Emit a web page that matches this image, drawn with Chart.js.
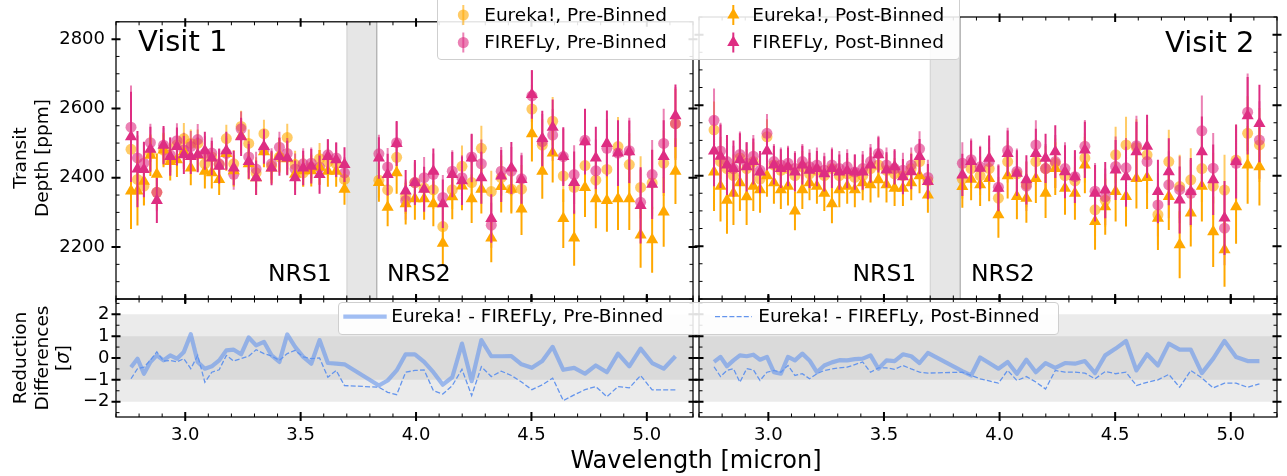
<!DOCTYPE html>
<html><head><meta charset="utf-8">
<script src="https://cdn.jsdelivr.net/npm/chart.js@4.4.0/dist/chart.umd.min.js"></script>
<style>
html,body{margin:0;padding:0;background:#fff;}
#wrap{position:relative;width:1287px;height:476px;overflow:hidden;font-family:"DejaVu Sans",sans-serif;color:#000;}
canvas{position:absolute;left:0;top:0;}
.t{position:absolute;white-space:nowrap;}
.lg{position:absolute;box-sizing:border-box;background:rgba(255,255,255,0.88);border:1px solid #cfcfcf;border-radius:4px;}
.rot{position:absolute;transform:translate(-50%,-50%) rotate(-90deg);text-align:center;white-space:nowrap;font-size:18.5px;line-height:21.5px;}
</style></head><body><div id="wrap">
<canvas id="c1" width="1287" height="476"></canvas>
<canvas id="c2" width="1287" height="476"></canvas>
<canvas id="c3" width="1287" height="476"></canvas>
<canvas id="c4" width="1287" height="476"></canvas>

<div class="t" style="left:138px;top:24px;font-size:29px;line-height:34px;">Visit 1</div>
<div class="t" style="left:1165px;top:25px;font-size:29px;line-height:34px;">Visit 2</div>
<div class="t" style="left:268px;top:259px;font-size:23.5px;line-height:28px;">NRS1</div>
<div class="t" style="left:387px;top:259px;font-size:23.5px;line-height:28px;">NRS2</div>
<div class="t" style="left:852.5px;top:259px;font-size:23.5px;line-height:28px;">NRS1</div>
<div class="t" style="left:971px;top:259px;font-size:23.5px;line-height:28px;">NRS2</div>

<div class="rot" style="left:29.5px;top:158px;">Transit<br>Depth [ppm]</div>
<div class="rot" style="left:40.5px;top:358px;">Reduction<br>Differences<br>[<i>σ</i>]</div>
<div class="t" style="left:696px;top:446px;font-size:24px;line-height:28px;transform:translateX(-50%);">Wavelength [micron]</div>

<div class="lg" style="left:437px;top:-8px;width:523px;height:68px;"></div>
<div class="lg" style="left:338px;top:301.5px;width:721px;height:33px;"></div>
<svg style="position:absolute;left:0;top:0;" width="1287" height="476">
  <line x1="463.3" y1="5" x2="463.3" y2="25" stroke="rgba(255,168,0,0.6)" stroke-width="2"/>
  <circle cx="463.3" cy="15" r="5.5" fill="rgba(255,168,0,0.6)"/>
  <line x1="463.3" y1="32.5" x2="463.3" y2="52.5" stroke="rgba(222,45,130,0.6)" stroke-width="2"/>
  <circle cx="463.3" cy="42.5" r="5.5" fill="rgba(222,45,130,0.6)"/>
  <line x1="733.3" y1="5" x2="733.3" y2="25" stroke="rgb(255,168,0)" stroke-width="2"/>
  <polygon points="733.3,8 739.4,18.5 727.2,18.5" fill="rgb(255,168,0)"/>
  <line x1="733.3" y1="32.5" x2="733.3" y2="52.5" stroke="rgb(222,45,130)" stroke-width="2"/>
  <polygon points="733.3,35.5 739.4,46 727.2,46" fill="rgb(222,45,130)"/>
  <line x1="343.3" y1="316.7" x2="386.7" y2="316.7" stroke="rgba(100,149,237,0.6)" stroke-width="4.2"/>
  <line x1="715" y1="316.7" x2="751.7" y2="316.7" stroke="rgb(100,149,237)" stroke-width="1.3" stroke-dasharray="5,2.2"/>
</svg>
<div class="t" style="left:484.2px;top:3.5px;font-size:18.5px;line-height:22px;">Eureka!, Pre-Binned</div>
<div class="t" style="left:484.2px;top:31.2px;font-size:18.5px;line-height:22px;">FIREFLy, Pre-Binned</div>
<div class="t" style="left:752.2px;top:3.5px;font-size:18.5px;line-height:22px;">Eureka!, Post-Binned</div>
<div class="t" style="left:752.2px;top:31.2px;font-size:18.5px;line-height:22px;">FIREFLy, Post-Binned</div>
<div class="t" style="left:391.2px;top:305.3px;font-size:18.5px;line-height:22px;">Eureka! - FIREFLy, Pre-Binned</div>
<div class="t" style="left:758.2px;top:305.3px;font-size:18.5px;line-height:22px;">Eureka! - FIREFLy, Post-Binned</div>
</div>
<script>
// ---------------- DATA ----------------
const wave = [2.765,2.793,2.821,2.849,2.877,2.906,2.935,2.964,2.994,3.024,3.054,3.085,3.115,3.147,3.178,3.210,3.242,3.275,3.307,3.341,3.374,3.408,3.442,3.476,3.511,3.546,3.582,3.618,3.654,3.690,
              3.839,3.877,3.916,3.955,3.995,4.035,4.075,4.116,4.157,4.199,4.241,4.283,4.326,4.369,4.413,4.457,4.502,4.547,4.592,4.638,4.685,4.732,4.779,4.827,4.875,4.924,4.973,5.023,5.073,5.124];

// Visit 1
const v1EurekaPre = [2482,2395,2376,2471,2358,2480,2452,2495,2513,2499,2499,2440,2460,2438,2513,2440,2548,2499,2414,2527,2433,2460,2516,2438,2414,2430,2455,2445,2440,2395,
                     2393,2365,2459,2345,2386,2370,2365,2259,2365,2433,2386,2485,2360,2400,2367,2367,2598,2494,2563,2405,2372,2435,2393,2424,2490,2438,2372,2385,2442,2556];
const v1EurekaPreErr = [90,60,55,50,50,45,45,45,45,40,40,45,40,40,40,40,45,40,45,40,40,40,40,40,40,40,45,40,40,40,
                        50,50,55,50,55,55,55,60,55,60,60,65,60,65,65,70,70,75,70,75,80,80,85,80,85,90,90,95,95,100];
const v1FireflyPre = [2546,2457,2442,2501,2358,2494,2466,2507,2480,2490,2510,2470,2471,2440,2470,2410,2541,2460,2425,2480,2440,2488,2470,2425,2440,2442,2430,2466,2457,2414,
                      2469,2431,2501,2334,2386,2400,2410,2343,2419,2400,2460,2440,2263,2419,2419,2397,2636,2504,2523,2461,2409,2508,2420,2485,2471,2478,2329,2409,2499,2556];
const v1FireflyPreErr = [120,65,60,55,55,50,50,50,50,45,45,50,45,45,45,45,50,45,50,45,45,45,45,45,45,45,50,45,45,45,
                         55,55,60,55,60,60,60,65,60,65,65,70,65,70,70,75,75,80,75,80,85,85,90,85,90,95,95,100,100,105];
const v1EurekaPost = [2362,2362,2390,2465,2410,2480,2447,2452,2475,2428,2465,2419,2414,2395,2470,2420,2520,2440,2400,2475,2428,2465,2455,2410,2420,2420,2430,2419,2419,2367,
                      2386,2315,2414,2325,2339,2339,2325,2211,2345,2376,2339,2367,2226,2375,2367,2310,2527,2419,2471,2282,2226,2372,2339,2334,2339,2339,2235,2221,2301,2419];
const v1EurekaPostErr = [110,100,70,60,60,50,55,50,50,50,45,50,45,45,50,45,50,45,50,45,45,50,45,45,45,45,50,45,45,45,
                         55,55,60,60,60,60,65,65,65,70,70,70,70,75,70,75,80,80,85,85,80,85,85,90,90,90,95,95,100,95];
const v1FireflyPost = [2518,2425,2424,2482,2334,2494,2461,2490,2466,2461,2466,2478,2457,2433,2478,2428,2518,2447,2400,2490,2428,2461,2457,2400,2428,2433,2409,2461,2452,2438,
                       2457,2409,2499,2362,2386,2367,2419,2325,2409,2391,2457,2400,2282,2405,2428,2395,2640,2513,2546,2461,2386,2504,2457,2499,2471,2475,2320,2381,2461,2579];
const v1FireflyPostErr = [130,110,80,65,65,55,55,55,55,50,50,55,50,50,55,50,55,50,50,50,50,55,50,50,50,50,55,50,50,50,
                          60,60,65,60,65,65,65,70,65,70,70,75,70,75,75,70,70,80,80,85,90,95,90,95,95,90,110,100,105,90];

// Visit 2
const v2EurekaPre = [2530,2440,2420,2400,2450,2420,2440,2390,2510,2430,2415,2420,2400,2425,2405,2415,2400,2420,2400,2405,2395,2400,2420,2430,2415,2405,2400,2420,2440,2385,
                     2390,2420,2400,2420,2336,2440,2405,2375,2440,2420,2435,2400,2385,2450,2303,2330,2459,2487,2480,2459,2289,2440,2369,2388,2420,2370,2359,2444,2520,2487];
const v2EurekaPreErr = [80,70,65,60,60,55,55,50,50,45,45,45,45,45,45,45,45,45,45,45,45,45,45,45,45,45,45,45,45,45,
                        55,55,55,60,60,60,60,65,65,65,70,70,70,70,75,75,80,80,80,85,85,90,90,90,95,95,100,100,105,105];
const v2FireflyPre = [2557,2470,2440,2420,2460,2435,2455,2415,2520,2440,2430,2435,2420,2440,2425,2430,2415,2430,2420,2425,2410,2420,2440,2463,2430,2420,2415,2430,2476,2395,
                      2435,2445,2425,2440,2367,2471,2412,2370,2487,2420,2440,2420,2397,2483,2356,2340,2426,2422,2485,2440,2317,2374,2360,2350,2527,2421,2251,2435,2580,2501];
const v2FireflyPreErr = [90,80,70,65,65,60,60,55,55,50,50,50,50,50,50,50,50,50,50,50,50,50,50,50,50,50,50,50,50,50,
                         60,60,60,65,65,65,65,70,70,70,75,75,75,75,80,80,85,85,85,90,90,95,95,95,100,100,105,105,110,110];
const v2EurekaPost = [2410,2370,2330,2350,2380,2340,2370,2360,2400,2380,2360,2370,2300,2360,2380,2370,2350,2320,2360,2370,2360,2380,2374,2388,2374,2364,2364,2380,2400,2345,
                      2369,2390,2374,2392,2289,2400,2341,2336,2392,2350,2420,2364,2350,2430,2270,2312,2355,2341,2392,2395,2279,2341,2204,2294,2370,2241,2190,2312,2430,2425];
const v2EurekaPostErr = [110,100,95,90,80,80,70,65,60,60,55,55,55,55,50,50,50,55,50,50,50,50,50,50,50,50,50,50,50,50,
                         60,60,60,65,65,65,65,70,70,70,75,75,75,80,80,80,85,85,85,90,90,95,95,95,100,100,105,105,110,110];
const v2FireflyPost = [2470,2455,2430,2420,2445,2425,2440,2410,2470,2430,2420,2425,2410,2430,2415,2420,2405,2420,2410,2414,2410,2410,2430,2459,2416,2425,2397,2411,2454,2383,
                       2402,2440,2421,2449,2364,2463,2407,2388,2463,2449,2468,2411,2397,2473,2350,2359,2416,2397,2468,2483,2355,2411,2331,2355,2468,2388,2280,2440,2570,2548];
const v2FireflyPostErr = [100,90,85,80,75,70,65,60,55,55,55,55,55,55,50,50,50,55,50,50,50,50,50,50,50,50,50,50,50,50,
                          60,60,60,65,65,65,65,70,70,70,75,75,75,80,80,80,85,85,85,90,90,95,95,95,100,100,105,105,110,110];

// Reduction differences [sigma]
const v1DiffPre = [-0.42,-0.03,-0.72,-0.18,0.12,-0.11,0.12,-0.03,0.28,1.09,-0.18,-0.49,-0.38,-0.11,0.35,0.38,0.17,0.94,0.58,0.74,0.12,-0.18,1.08,0.51,0.05,-0.26,0.82,-0.23,-0.26,-0.29,
                   -1.26,-1.03,-0.57,0.17,0.17,-0.18,-0.65,-1.22,-0.88,0.66,-1.06,0.82,0.08,0.08,0.09,-0.29,-0.45,-0.14,0.51,-0.54,-0.45,-0.72,-0.34,-0.65,0.2,-0.38,0.43,-0.23,-0.49,0.08];
const v1DiffPost = [-0.95,-0.49,-0.42,-0.1,0.28,-0.14,-0.11,-0.18,-0.03,-0.49,0.12,-1.11,-0.65,-0.54,0.12,-0.14,-0.03,0.08,0.38,0.2,0.09,-0.11,0.2,0.35,0.05,-0.03,0.0,-0.88,-0.57,-1.26,
                    -1.34,-1.57,-1.68,-0.65,-0.57,-0.55,-1.49,-1.65,-1.26,-0.52,-1.72,-0.4,-0.85,-0.6,-0.8,-1.1,-1.45,-1.23,-0.92,-1.95,-1.69,-1.45,-1.31,-1.77,-1.31,-1.37,-0.8,-1.46,-1.46,-1.46];
const v2DiffPre = [-0.18,0.05,-0.38,-0.11,0.12,0.08,0.15,-0.08,0.05,-0.65,-0.72,0.05,-0.11,0.2,-0.11,-0.65,-0.34,-0.2,-0.1,-0.11,-0.05,-0.03,0.12,-0.49,-0.11,-0.14,0.17,0.08,-0.23,0.23,
                   -0.6,-0.8,0.02,-0.23,-0.49,-0.18,-0.72,-0.08,-0.65,-0.23,-0.45,-0.23,-0.26,-0.14,-0.69,0.12,0.43,0.78,-0.57,0.17,-0.34,0.66,0.38,0.38,-0.69,-0.03,0.78,0.05,-0.14,-0.14];
const v2DiffPost = [-0.4,-0.85,-0.57,-0.49,-1.11,-0.49,-0.54,-1.03,-0.65,-0.57,-0.65,-0.34,-0.8,-0.72,-0.95,-0.72,-0.57,-0.5,-0.45,-0.42,-0.3,-0.18,-0.65,-0.45,-0.45,-0.52,-0.34,-0.5,-0.65,-0.69,
                    -0.65,-0.8,-0.95,-1.05,-1.15,-0.57,-1.03,-0.85,-1.1,-1.42,-0.57,-0.65,-0.65,-0.69,-0.95,-0.62,-0.72,-0.65,-1.26,-1.11,-1.0,-0.75,-1.34,-0.57,-0.91,-1.37,-1.15,-1.15,-1.34,-1.18];

// Axis ticks / ranges
const xTicks = [3.0,3.5,4.0,4.5,5.0];
const depthTicks = [2200,2400,2600,2800];
const sigmaTicks = [-2,-1,0,1,2];
const xRange = [2.70,5.20];
const depthRange = [2050,2850];
const sigmaRange = [-2.7,2.7];
const detectorGap = [3.70,3.83];
const sigmaBands = [2,1];

// ---------------- STYLE ----------------
const FONT = 'DejaVu Sans';
const orange = 'rgb(255,168,0)', orangeA = 'rgba(255,168,0,0.6)';
const pink = 'rgb(222,45,130)', pinkA = 'rgba(222,45,130,0.6)';
const blueA = 'rgba(100,149,237,0.6)', blue = 'rgb(100,149,237)';

function pts(v){ return wave.map((x,i)=>({x:x,y:v[i]})); }
function errs(v,e){ const out=[]; wave.forEach((x,i)=>{ out.push({x:x,y:v[i]-e[i]},{x:x,y:v[i]+e[i]},{x:x,y:null}); }); return out; }
function minorList(lo,hi,step,majors){ const out=[]; const n=Math.round((hi-lo)/step); for(let k=0;k<=n;k++){ const v=+(lo+k*step).toFixed(6); if(!majors.some(m=>Math.abs(m-v)<1e-6)) out.push(v);} return out; }

const tickPlugin = {
  id:'tickPlugin',
  afterDraw(chart){
    const o = chart.options.plugins.tickPlugin;
    const ctx = chart.ctx, a = chart.chartArea, xs = chart.scales.x, ys = chart.scales.y;
    ctx.save();
    ctx.strokeStyle = '#000';
    ctx.lineWidth = 1;
    ctx.beginPath();
    o.xMinor.forEach(v=>{ const p=xs.getPixelForValue(v); ctx.moveTo(p,a.top); ctx.lineTo(p,a.top+3.5); ctx.moveTo(p,a.bottom); ctx.lineTo(p,a.bottom-3.5); });
    o.yMinor.forEach(v=>{ const p=ys.getPixelForValue(v); ctx.moveTo(a.left,p); ctx.lineTo(a.left+3.5,p); ctx.moveTo(a.right,p); ctx.lineTo(a.right-3.5,p); });
    ctx.stroke();
    ctx.lineWidth = 2;
    ctx.beginPath();
    o.xMajor.forEach(v=>{ const p=xs.getPixelForValue(v); ctx.moveTo(p,a.top-3.5); ctx.lineTo(p,a.top+5); ctx.moveTo(p,a.bottom+4); ctx.lineTo(p,a.bottom-5); });
    o.yMajor.forEach(v=>{ const p=ys.getPixelForValue(v); ctx.moveTo(a.left-4.5,p); ctx.lineTo(a.left+4.5,p); ctx.moveTo(a.right+4.5,p); ctx.lineTo(a.right-4.5,p); });
    ctx.stroke();
    ctx.lineWidth = 1.25;
    ctx.strokeRect(a.left,a.top,a.right-a.left,a.bottom-a.top);
    ctx.restore();
  }
};

function withOrder(list){ return list.map((d,i)=>Object.assign(d,{order:list.length-i})); }

function topDatasets(ep,epe,fp,fpe,eq,eqe,fq,fqe){
  return withOrder([
    {data:[{x:detectorGap[0],y:depthRange[0]},{x:detectorGap[0],y:depthRange[1]},{x:detectorGap[1],y:depthRange[1]},{x:detectorGap[1],y:depthRange[0]}],
     showLine:true,pointRadius:0,borderWidth:1,borderColor:'rgba(128,128,128,0.3)',backgroundColor:'rgba(128,128,128,0.2)',fill:{target:{value:depthRange[0]}}},
    {data:errs(ep,epe),showLine:true,spanGaps:false,pointRadius:0,borderWidth:2,borderColor:orangeA},
    {data:pts(ep),pointStyle:'circle',pointRadius:5.5,backgroundColor:orangeA,borderWidth:0},
    {data:errs(fp,fpe),showLine:true,spanGaps:false,pointRadius:0,borderWidth:2,borderColor:pinkA},
    {data:pts(fp),pointStyle:'circle',pointRadius:5.5,backgroundColor:pinkA,borderWidth:0},
    {data:errs(eq,eqe),showLine:true,spanGaps:false,pointRadius:0,borderWidth:2,borderColor:orange},
    {data:pts(eq),pointStyle:'triangle',pointRadius:7,backgroundColor:orange,borderWidth:0},
    {data:errs(fq,fqe),showLine:true,spanGaps:false,pointRadius:0,borderWidth:2,borderColor:pink},
    {data:pts(fq),pointStyle:'triangle',pointRadius:7,backgroundColor:pink,borderWidth:0}
  ]);
}
function bottomDatasets(dpre,dpost){
  return withOrder([
    {data:[{x:xRange[0],y:sigmaBands[0]},{x:xRange[1],y:sigmaBands[0]}],showLine:true,pointRadius:0,borderWidth:0,backgroundColor:'rgba(128,128,128,0.16)',fill:{target:{value:-sigmaBands[0]}}},
    {data:[{x:xRange[0],y:sigmaBands[1]},{x:xRange[1],y:sigmaBands[1]}],showLine:true,pointRadius:0,borderWidth:0,backgroundColor:'rgba(128,128,128,0.16)',fill:{target:{value:-sigmaBands[1]}}},
    {data:pts(dpre),showLine:true,pointRadius:0,borderWidth:4.2,borderColor:blueA,borderJoinStyle:'round'},
    {data:pts(dpost),showLine:true,pointRadius:0,borderWidth:1.3,borderColor:blue,borderDash:[5,2.2]}
  ]);
}

// cfg: pad, axis box sizes (yW, xH), ranges, ticks
function make(id,datasets,pad,yW,xH,yRange,yTicks,yMinor,showX,showY,yPad,yFmt){
  new Chart(document.getElementById(id),{
    type:'scatter',
    data:{datasets:datasets},
    plugins:[tickPlugin],
    options:{
      responsive:false,animation:false,events:[],
      layout:{padding:pad},
      elements:{line:{tension:0}},
      plugins:{legend:{display:false},tooltip:{enabled:false},
        tickPlugin:{xMajor:xTicks,xMinor:minorList(2.7,5.2,0.1,xTicks),yMajor:yTicks,yMinor:yMinor}},
      scales:{
        x:{type:'linear',position:'bottom',min:xRange[0],max:xRange[1],
           afterFit:s=>{s.height=xH;},
           afterBuildTicks:s=>{s.ticks=xTicks.map(v=>({value:v}));},
           grid:{display:false,drawTicks:false},border:{display:false},
           ticks:{display:showX,color:'#000',font:{family:FONT,size:18},padding:8,maxRotation:0,minRotation:0,autoSkip:false,callback:v=>Number(v).toFixed(1)}},
        y:{type:'linear',position:'left',min:yRange[0],max:yRange[1],
           afterFit:s=>{s.width=yW;},
           afterBuildTicks:s=>{s.ticks=yTicks.map(v=>({value:v}));},
           grid:{display:false,drawTicks:false},border:{display:false},
           ticks:{display:showY,color:'#000',font:{family:FONT,size:18},padding:yPad,autoSkip:false,callback:yFmt}}
      }
    }
  });
}

const depthMinor = minorList(2050,2850,50,depthTicks);
const sigmaMinor = minorList(-2.5,2.5,0.5,sigmaTicks);
const depthFmt = v=>String(v);
const sigmaFmt = v=>(v<0?'\u2212'+Math.abs(v):String(v));

make('c1',topDatasets(v1EurekaPre,v1EurekaPreErr,v1FireflyPre,v1FireflyPreErr,v1EurekaPost,v1EurekaPostErr,v1FireflyPost,v1FireflyPostErr),
     {left:0,right:594,top:17,bottom:177},116,0,depthRange,depthTicks,depthMinor,false,true,11,depthFmt);
make('c2',topDatasets(v2EurekaPre,v2EurekaPreErr,v2FireflyPre,v2FireflyPreErr,v2EurekaPost,v2EurekaPostErr,v2FireflyPost,v2FireflyPostErr),
     {left:699,right:10,top:17,bottom:177},0,0,depthRange,depthTicks,depthMinor,false,false,11,depthFmt);
make('c3',bottomDatasets(v1DiffPre,v1DiffPost),
     {left:0,right:594,top:299,bottom:0},116,59,sigmaRange,sigmaTicks,sigmaMinor,true,true,6.5,sigmaFmt);
make('c4',bottomDatasets(v2DiffPre,v2DiffPost),
     {left:699,right:10,top:299,bottom:0},0,59,sigmaRange,sigmaTicks,sigmaMinor,true,false,6.5,sigmaFmt);
</script>
</body></html>
